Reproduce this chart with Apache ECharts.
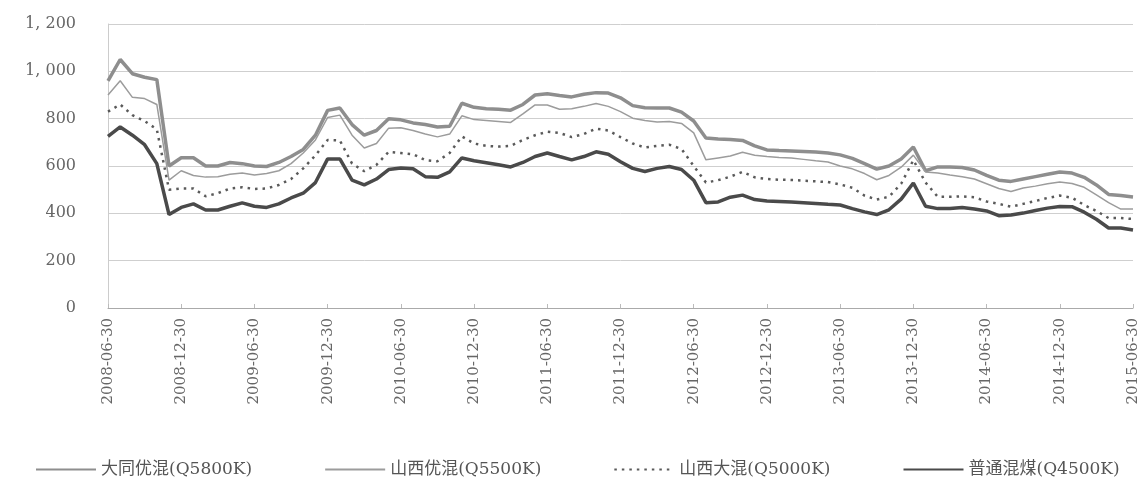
<!DOCTYPE html>
<html>
<head>
<meta charset="utf-8">
<script src="https://cdn.jsdelivr.net/npm/echarts@6/dist/echarts.min.js"></script>
<style>html,body{margin:0;padding:0;background:#fff;}#c{width:1144px;height:485px;}</style>
</head>
<body>
<div id="c"></div>
<script>
// Monthly dates, 2008-06-30 .. 2015-06-30
var categories = [];
(function(){
  for (var y = 2008, m = 6; y < 2015 || (y === 2015 && m <= 6); ) {
    var mm = (m < 10 ? '0' : '') + m;
    categories.push(y + '-' + mm + '-' + (m === 2 ? '28' : '30'));
    m++; if (m > 12) { m = 1; y++; }
  }
})();

var seriesNames = ['大同优混(Q5800K)', '山西优混(Q5500K)', '山西大混(Q5000K)', '普通混煤(Q4500K)'];

var datong = [960,1050,990,975,965,600,635,635,600,600,615,610,600,598,615,640,670,730,835,845,775,730,750,800,
  795,782,775,765,768,865,848,842,840,836,860,900,905,898,892,903,910,908,888,855,846,845,845,828,790,718,
  714,712,708,685,668,665,663,661,659,655,647,632,610,587,600,630,680,580,596,596,594,583,560,540,535,545,
  555,565,575,570,552,520,480,475,469];

var shanxiYou = [900,960,890,885,860,540,580,560,553,555,565,570,562,568,580,610,655,710,805,815,730,676,695,760,
  762,750,735,723,735,812,796,792,788,784,820,858,858,840,842,852,864,852,830,802,792,786,788,780,740,626,
  634,642,658,645,640,636,634,628,622,617,600,588,568,542,560,595,646,575,570,562,555,545,525,505,492,507,
  515,525,532,526,510,478,445,418,418];

var shanxiDa = [830,860,815,790,755,500,505,505,472,485,505,510,503,505,520,545,590,645,710,708,610,578,605,660,
  655,650,625,620,655,725,695,685,682,685,710,730,745,740,722,735,758,750,722,695,678,685,690,672,600,530,
  540,555,575,552,545,542,541,538,535,532,522,508,475,458,470,525,625,530,470,470,472,468,450,440,428,440,
  452,465,475,466,435,410,380,380,376];

var putong = [725,765,730,690,610,395,425,440,414,414,430,444,430,425,440,465,485,530,630,630,540,520,545,585,
  592,588,555,552,575,634,622,614,605,596,615,640,655,640,626,640,660,650,618,590,577,590,598,585,540,445,
  448,468,477,458,452,450,448,445,442,438,435,420,406,395,415,460,528,430,420,420,425,418,410,390,393,401,
  412,422,429,428,405,375,338,338,330];

var yTicks = [0, 200, 400, 600, 800, 1000, 1200];

function fmtY(v) {
  if (v >= 1000) { var s = String(v); return s.slice(0, s.length - 3) + ', ' + s.slice(-3); }
  return String(v);
}

var chart = echarts.init(document.getElementById('c'), null, {renderer: 'canvas'});
chart.setOption({
  animation: false,
  backgroundColor: '#ffffff',
  grid: {left: 108, right: 11, top: 24, bottom: 177, containLabel: false},
  legend: {
    bottom: 2, left: 30,
    itemWidth: 60, itemHeight: 14, itemGap: 72,
    itemStyle: {opacity: 0},
    textStyle: {fontFamily: 'DejaVu Serif, Noto Sans CJK SC', fontSize: 17, color: '#555'},
    data: seriesNames
  },
  xAxis: {
    type: 'category',
    data: categories,
    boundaryGap: false,
    axisLine: {lineStyle: {color: '#aaa', width: 1}},
    axisTick: {show: true, inside: true, length: 4, interval: 5, lineStyle: {color: '#bbb'}},
    axisLabel: {interval: 5, rotate: 90, margin: 10, fontFamily: 'DejaVu Serif', fontSize: 15, color: '#666'},
    splitLine: {show: false}
  },
  yAxis: {
    type: 'value',
    min: yTicks[0], max: yTicks[yTicks.length - 1], interval: 200,
    axisLine: {show: true, lineStyle: {color: '#ccc'}},
    axisTick: {show: false},
    axisLabel: {formatter: fmtY, margin: 32, fontFamily: 'DejaVu Serif', fontSize: 16, color: '#666'},
    splitLine: {lineStyle: {color: '#cfcfcf', width: 1}}
  },
  series: [
    {name: seriesNames[0], type: 'line', data: datong, symbol: 'none', smooth: false,
     lineStyle: {color: '#8e8e8e', width: 3.5}, itemStyle: {color: '#8e8e8e'}, z: 3},
    {name: seriesNames[1], type: 'line', data: shanxiYou, symbol: 'none',
     lineStyle: {color: '#9c9c9c', width: 1.5}, itemStyle: {color: '#9c9c9c'}, z: 4},
    {name: seriesNames[2], type: 'line', data: shanxiDa, symbol: 'none',
     lineStyle: {color: '#5a5a5a', width: 2.5, type: [2.5, 5]}, itemStyle: {color: '#5a5a5a'}, z: 5},
    {name: seriesNames[3], type: 'line', data: putong, symbol: 'none',
     lineStyle: {color: '#4a4a4a', width: 3.5}, itemStyle: {color: '#4a4a4a'}, z: 6}
  ]
});
</script>
</body>
</html>
